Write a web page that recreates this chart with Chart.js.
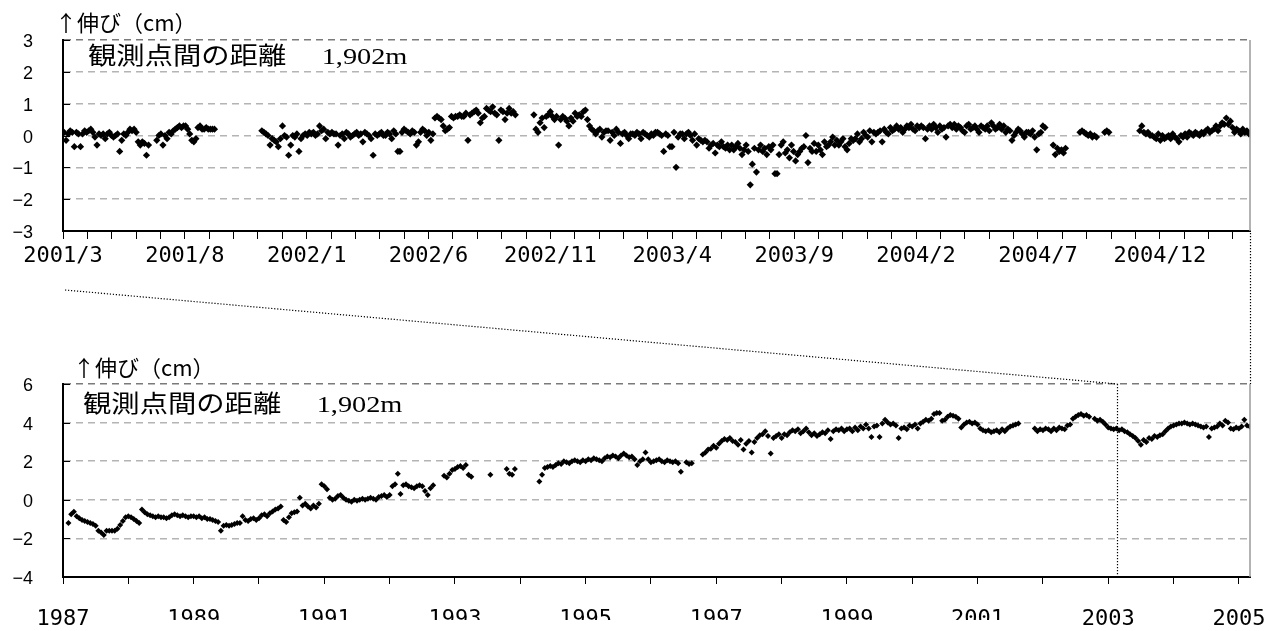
<!DOCTYPE html>
<html lang="ja">
<head>
<meta charset="utf-8">
<title>観測点間の距離 1,902m</title>
<script src="https://cdn.jsdelivr.net/npm/chart.js@4/dist/chart.umd.min.js"></script>
<style>
  html, body { margin: 0; padding: 0; background: #fff; }
  #wrap { position: relative; width: 1278px; height: 631px; overflow: hidden; }
  #topChart { position: absolute; left: 0; top: 0; }
  #bottomChart { position: absolute; left: 0; top: 330px; }
  #links { position: absolute; left: 0; top: 0; pointer-events: none; }
  .ylab { position: absolute; left: 0; width: 33px; height: 20px; line-height: 20px;
          text-align: right; font: 18px "Liberation Sans", Arial, sans-serif; color: #000;
          white-space: nowrap; }
</style>
</head>
<body>
<div id="wrap">
  <canvas id="topChart" width="1278" height="300"></canvas>
  <canvas id="bottomChart" width="1278" height="301"></canvas>
  <canvas id="links" width="1278" height="631"></canvas>
</div>
<script>
// ---- data -------------------------------------------------------------

// Upper panel: 2001/3 – 2005/3, one row per month, twelve readings per month (cm)
const topReadingsPerMonth = 12;
const topTickLabels = ['2001/3', '2001/8', '2002/1', '2002/6', '2002/11',
                       '2003/4', '2003/9', '2004/2', '2004/7', '2004/12'];
const topMinorDays = 30;      // tick mark every 30 days
const topMajorDays = 150;     // date label every 150 days
const daysPerMonth = 30.4375;
const topYTicks = [-3, -2, -1, 0, 1, 2, 3];
const _ = null;
const topValues = [
  [0.1, -0.15, 0.05, 0.15, 0.1, -0.35, 0.1, 0.05, -0.35, 0.05, 0.15, 0.1],
  [0.15, 0.2, 0.1, -0.05, -0.3, 0.05, 0.0, 0.05, -0.1, 0.05, 0.1, 0.0],
  [-0.05, 0.0, 0.05, -0.5, -0.15, 0.05, 0.0, 0.1, 0.2, 0.15, 0.2, 0.1],
  [-0.2, -0.3, -0.2, -0.25, -0.62, -0.3, _, _, _, -0.15, 0.0, 0.05],
  [-0.3, 0.0, -0.1, 0.1, 0.05, 0.15, 0.2, 0.25, 0.3, 0.25, 0.3, 0.3],
  [0.2, 0.05, -0.15, -0.2, -0.1, 0.25, 0.3, 0.2, 0.2, 0.25, 0.2, 0.2],
  [0.2, 0.2, _, _, _, _, _, _, _, _, _, _],
  [_, _, _, _, _, _, _, _, _, _, _, _],
  [0.15, 0.1, 0.05, 0.0, -0.3, -0.1, -0.15, -0.2, -0.35, -0.1, 0.3, 0.0],
  [-0.05, -0.62, -0.3, 0.0, -0.05, 0.05, -0.5, -0.1, 0.0, 0.05, 0.0, 0.1],
  [0.05, 0.1, 0.0, 0.05, 0.3, 0.15, 0.2, -0.1, 0.1, 0.05, 0.1, 0.05],
  [0.05, -0.3, 0.0, 0.05, -0.1, 0.1, 0.05, -0.05, 0.0, 0.05, 0.1, 0.0],
  [0.05, -0.2, 0.1, 0.05, 0.0, -0.1, -0.62, 0.05, 0.0, 0.05, 0.1, 0.0],
  [0.0, 0.1, 0.05, -0.1, 0.15, 0.05, -0.5, -0.5, 0.1, 0.2, 0.15, 0.1],
  [0.05, 0.15, 0.1, -0.3, -0.2, 0.1, 0.2, 0.15, 0.0, 0.1, -0.15, 0.05],
  [0.55, 0.6, 0.55, 0.5, 0.3, 0.15, 0.2, 0.25, 0.6, 0.55, 0.6, 0.6],
  [0.65, 0.6, 0.6, 0.7, -0.15, 0.65, 0.7, 0.75, 0.8, 0.7, 0.4, 0.55],
  [0.6, 0.85, 0.8, 0.75, 0.9, 0.7, 0.65, -0.15, 0.8, 0.75, 0.5, 0.7],
  [0.85, 0.7, 0.75, 0.65, _, _, _, _, _, _, _, _],
  [0.65, 0.2, 0.1, 0.4, 0.55, 0.25, 0.6, 0.65, 0.75, 0.6, 0.5, 0.6],
  [-0.3, 0.5, 0.6, 0.55, 0.45, 0.3, 0.55, 0.45, 0.7, 0.6, 0.65, 0.6],
  [0.75, 0.8, 0.5, 0.3, 0.2, 0.15, 0.05, 0.15, 0.2, -0.05, 0.1, 0.15],
  [0.15, -0.15, 0.1, 0.0, 0.2, 0.1, -0.25, 0.05, 0.1, 0.0, -0.1, 0.05],
  [0.05, 0.0, 0.1, 0.05, -0.1, 0.1, 0.05, 0.0, -0.05, 0.05, 0.0, 0.1],
  [0.1, 0.05, 0.0, -0.5, 0.05, 0.0, -0.35, -0.35, 0.1, -1.0, -0.05, 0.05],
  [0.05, -0.1, 0.05, 0.1, 0.0, -0.15, 0.05, -0.3, -0.1, -0.15, -0.2, -0.15],
  [-0.2, -0.4, -0.3, -0.25, -0.55, -0.3, -0.35, -0.2, -0.35, -0.4, -0.3, -0.45],
  [-0.3, -0.45, -0.35, -0.25, -0.4, -0.6, -0.45, -0.3, -0.5, -1.55, -0.9, -0.4],
  [-1.15, -0.45, -0.3, -0.5, -0.4, -0.6, -0.35, -0.45, -0.3, -1.2, -1.2, -0.6],
  [-0.3, -0.2, -0.55, -0.45, -0.7, -0.3, -0.5, -0.8, -0.6, -0.5, -0.4, -0.35],
  [0.0, -0.85, -0.4, -0.5, -0.25, -0.5, -0.3, -0.45, -0.6, -0.2, -0.35, -0.3],
  [-0.2, -0.05, -0.3, -0.15, -0.3, -0.2, -0.1, -0.35, -0.45, -0.25, -0.1, -0.15],
  [-0.1, 0.05, -0.2, -0.1, 0.1, 0.0, -0.05, 0.15, -0.2, 0.1, 0.05, 0.1],
  [0.15, -0.2, 0.2, 0.1, 0.05, 0.25, 0.15, 0.2, 0.3, 0.2, 0.25, 0.1],
  [0.2, 0.3, 0.25, 0.35, 0.2, 0.15, 0.3, 0.25, 0.3, 0.25, -0.1, 0.2],
  [0.3, 0.2, 0.35, 0.25, 0.1, 0.3, 0.2, 0.25, -0.05, 0.3, 0.35, 0.25],
  [0.35, 0.2, 0.3, 0.25, 0.15, 0.1, 0.3, 0.35, 0.2, 0.25, 0.3, 0.2],
  [0.1, 0.3, 0.25, 0.2, 0.3, 0.15, 0.4, 0.3, 0.2, 0.25, 0.35, 0.2],
  [0.3, 0.1, 0.2, 0.15, -0.15, 0.0, 0.1, 0.2, 0.15, 0.05, -0.05, 0.1],
  [0.1, 0.05, 0.15, -0.05, -0.45, 0.05, 0.1, 0.3, 0.25, _, _, _],
  [-0.3, -0.6, -0.4, -0.5, -0.45, -0.55, -0.4, _, _, _, _, _],
  [_, 0.1, 0.15, 0.1, 0.05, 0.0, 0.05, -0.05, 0.0, -0.05, _, _],
  [_, 0.1, 0.15, 0.1, _, _, _, _, _, _, _, _],
  [_, _, _, _, _, _, 0.15, 0.3, 0.1, 0.05, 0.1, 0.0],
  [0.0, -0.05, -0.1, 0.05, -0.15, 0.0, -0.1, -0.05, 0.0, -0.1, 0.05, -0.05],
  [-0.1, -0.2, 0.0, -0.05, 0.05, -0.05, 0.1, 0.05, 0.0, 0.1, 0.05, 0.0],
  [0.1, 0.05, 0.15, 0.2, 0.1, 0.15, 0.2, 0.3, 0.15, 0.3, 0.4, 0.35],
  [0.55, 0.35, 0.45, 0.25, 0.1, 0.2, 0.15, 0.05, 0.2, 0.1, 0.15, 0.05]
];

// Lower panel: 1987 – 2005/3, one row per year, 24 readings per year (cm)
const bottomFirstYear = 1987;
const bottomReadingsPerYear = 24;
const bottomTickLabels = ['1987', '1989', '1991', '1993', '1995', '1997', '1999', '2001', '2003', '2005'];
const bottomYTicks = [-4, -2, 0, 2, 4, 6];
const bottomValues = [
  [_, _, -1.2, -0.75, -0.62, -0.85, -0.95, -1.05, -1.1, -1.15, -1.2, -1.25, -1.35, -1.6, -1.7, -1.82, -1.6, -1.6, -1.6, -1.6, -1.5, -1.3, -1.1, -0.9],
  [-0.85, -0.9, -1.0, -1.1, -1.2, -0.5, -0.65, -0.75, -0.8, -0.85, -0.9, -0.85, -0.9, -0.9, -0.95, -0.9, -0.8, -0.75, -0.8, -0.85, -0.8, -0.85, -0.9, -0.85],
  [-0.85, -0.9, -0.85, -0.95, -0.9, -1.0, -1.0, -1.05, -1.1, -1.15, -1.6, -1.35, -1.3, -1.35, -1.3, -1.25, -1.2, -1.2, -0.85, -1.05, -1.1, -1.0, -0.95, -1.05],
  [-0.95, -0.8, -0.75, -0.85, -0.7, -0.6, -0.5, -0.45, -0.35, -1.05, -1.15, -0.9, -0.7, -0.65, -0.6, 0.1, -0.3, -0.2, -0.35, -0.45, -0.3, -0.4, -0.2, 0.8],
  [0.7, 0.55, 0.1, 0.0, 0.05, 0.2, 0.25, 0.1, 0.0, -0.05, -0.1, 0.0, -0.05, 0.0, 0.05, 0.0, 0.05, 0.1, 0.05, 0.0, 0.15, 0.2, 0.25, 0.15],
  [0.25, 0.7, 0.8, 1.35, 0.3, 0.75, 0.8, 0.7, 0.65, 0.6, 0.7, 0.75, 0.7, 0.45, 0.25, 0.6, 0.75, _, _, _, 1.25, 1.15, 1.35, 1.55],
  [1.6, 1.7, 1.75, 1.65, 1.8, 1.3, 1.2, _, _, _, _, _, _, 1.3, _, _, _, _, _, 1.6, 1.35, 1.3, 1.6, _],
  [_, _, _, _, _, _, _, 0.95, 1.3, 1.65, 1.7, 1.75, 1.7, 1.8, 1.9, 1.85, 2.0, 1.95, 1.9, 2.0, 2.05, 2.0, 1.95, 2.05],
  [2.0, 2.1, 2.05, 2.15, 2.1, 2.05, 2.0, 2.15, 2.25, 2.2, 2.3, 2.25, 2.15, 2.3, 2.4, 2.3, 2.2, 2.25, 2.1, 1.8, 2.0, 2.1, 2.45, 2.1],
  [1.95, 2.0, 2.05, 2.1, 2.0, 1.95, 2.05, 2.0, 1.95, 2.0, 1.9, 1.45, _, 1.95, 1.85, 1.9, _, _, _, 2.35, 2.45, 2.6, 2.65, 2.8],
  [2.7, 2.9, 3.05, 3.15, 3.1, 3.2, 3.05, 3.0, 2.85, 3.1, 2.6, 2.9, 3.05, 2.45, 3.0, 3.2, 3.35, 3.4, 3.55, 3.3, 2.4, 3.2, 3.3, 3.4],
  [3.2, 3.4, 3.35, 3.5, 3.6, 3.55, 3.65, 3.45, 3.55, 3.7, 3.5, 3.35, 3.45, 3.3, 3.4, 3.5, 3.45, 3.6, 3.15, 3.55, 3.65, 3.6, 3.7, 3.55],
  [3.65, 3.7, 3.55, 3.75, 3.6, 3.8, 3.7, 3.9, 3.7, 3.25, 3.8, 3.85, 3.25, 3.95, 4.15, 4.0, 3.9, 3.95, 3.85, 3.2, 3.7, 3.75, 3.65, 3.85],
  [3.8, 3.9, 3.7, 3.95, 4.05, 4.15, 4.1, 4.2, 4.45, 4.5, 4.5, 4.1, 4.15, 4.3, 4.4, 4.35, 4.3, 4.2, 3.75, 3.9, 4.0, 4.05, 3.95, 4.0],
  [3.9, 3.7, 3.6, 3.55, 3.6, 3.5, 3.55, 3.6, 3.5, 3.65, 3.55, 3.7, 3.8, 3.85, 3.9, 3.95, _, _, _, _, _, 3.7, 3.55, 3.65],
  [3.6, 3.7, 3.65, 3.55, 3.7, 3.6, 3.75, 3.7, 3.65, 3.85, 3.9, 4.2, 4.3, 4.4, 4.45, 4.35, 4.4, 4.3, _, 4.2, 4.1, 4.15, 4.05, 3.9],
  [3.75, 3.7, 3.65, 3.7, 3.6, 3.65, 3.55, 3.5, 3.4, 3.3, 3.2, 3.05, 2.85, 3.1, 3.0, 3.2, 3.15, 3.3, 3.25, 3.35, 3.4, 3.55, 3.7, 3.8],
  [3.85, 3.9, 3.95, 3.95, 4.0, 3.95, 3.9, 3.95, 3.9, 3.85, 3.8, 3.75, 3.8, 3.25, 3.7, 3.75, 3.8, 3.95, 3.85, 4.1, 4.0, 3.7, 3.65, 3.75],
  [3.7, 3.8, 4.15, 3.85, 3.8]
];

// Period of the lower panel marked by the dotted guide lines (decimal years)
const windowStart = 2003.14;
const windowEnd = 2005.17;

const noteText = '観測点間の距離\u3000 1,902m';
const axisTitleText = '↑伸び（cm）';

// ---- helpers ----------------------------------------------------------

const topPoints = [];
topValues.forEach((row, m) => row.forEach((v, j) => {
  if (v !== null) topPoints.push({ x: m + (j + 0.5) / topReadingsPerMonth, y: v });
}));

const bottomPoints = [];
bottomValues.forEach((row, k) => row.forEach((v, j) => {
  if (v !== null) bottomPoints.push({ x: bottomFirstYear + k + j / bottomReadingsPerYear, y: v });
}));

const minus = v => (v < 0 ? '\u2212' + Math.abs(v) : String(v));
const xFont = { family: '"DejaVu Sans Mono", monospace', size: 22 };

// frame, inner y ticks, axis title and the note inside the plot
const framePlugin = {
  id: 'frame',
  afterDraw(chart, args, o) {
    const { ctx, chartArea: a } = chart;
    const ys = chart.scales.y;
    ctx.save();
    ctx.strokeStyle = '#9a9a9a';
    ctx.lineWidth = 1.5;
    ctx.beginPath();
    ctx.moveTo(a.right, a.top);
    ctx.lineTo(a.right, a.bottom);
    ctx.stroke();

    ctx.strokeStyle = '#000';
    ctx.lineWidth = 1;
    o.yTicks.forEach(v => {
      const yy = Math.round(ys.getPixelForValue(v)) + 0.5;
      ctx.beginPath();
      ctx.moveTo(a.left, yy);
      ctx.lineTo(a.left + 7, yy);
      ctx.stroke();
    });

    ctx.fillStyle = '#000';
    ctx.textAlign = 'left';
    ctx.textBaseline = 'middle';
    ctx.font = '22px "Noto Sans CJK JP", sans-serif';
    ctx.fillText(axisTitleText, a.left + o.titleDx, a.top + o.titleDy);

    ctx.translate(a.left + o.noteDx, a.top + o.noteDy);
    ctx.scale(1.18, 1);
    ctx.font = '24px "Liberation Serif", "Noto Sans CJK JP", serif';
    ctx.fillText(noteText, 0, 0);
    ctx.restore();
  }
};

function baseOptions(frameOpts) {
  return {
    responsive: false,
    animation: false,
    events: [],
    plugins: { legend: { display: false }, tooltip: { enabled: false }, frame: frameOpts },
  };
}

const fixX = h => s => { s.height = h; s.paddingLeft = 0; s.paddingRight = 0; };
const fixY = s => { s.width = 63; s.paddingTop = 0; s.paddingBottom = 0; };

// ---- upper panel ------------------------------------------------------

// tick marks every 30 days, a date label on every fifth one (150 days)
function buildTopTicks(s) {
  const step = topMinorDays / daysPerMonth;
  const perLabel = topMajorDays / topMinorDays;
  const ticks = [];
  for (let k = 0; k * step <= topValues.length + 1e-9; k++) {
    const text = k % perLabel === 0 ? (topTickLabels[k / perLabel] || '') : '';
    ticks.push({ value: k * step, text });
  }
  s.ticks = ticks;
}

const topOpts = baseOptions({ yTicks: topYTicks, titleDx: -8, titleDy: -17, noteDx: 25, noteDy: 18 });
topOpts.layout = { padding: { top: 40, right: 28, left: 0, bottom: 0 } };
topOpts.scales = {
  x: {
    type: 'linear', min: 0, max: topValues.length,
    afterBuildTicks: buildTopTicks,
    afterFit: fixX(69),
    grid: { drawOnChartArea: false, drawTicks: true, tickLength: 8, color: '#000', lineWidth: 1 },
    border: { display: true, color: '#000', width: 2 },
    ticks: {
      autoSkip: false, maxRotation: 0, padding: 4, color: '#000', font: xFont,
      callback: (v, i, ticks) => ticks[i].text || ''
    }
  },
  y: {
    min: topYTicks[0], max: topYTicks[topYTicks.length - 1],
    afterBuildTicks: s => { s.ticks = topYTicks.map(v => ({ value: v })); },
    afterFit: fixY,
    grid: { color: c => (c.tick && c.tick.value === 3 ? '#7a7a7a' : '#b4b4b4'), lineWidth: 1.5, drawTicks: false },
    border: { display: true, color: '#000', width: 2, dash: [7, 5] },
    ticks: { display: false }
  }
};

const topChart = new Chart(document.getElementById('topChart'), {
  type: 'scatter',
  data: { datasets: [{ data: topPoints, pointStyle: 'rectRot', pointRadius: 3.6,
                       backgroundColor: '#000', borderColor: '#000', borderWidth: 0 }] },
  options: topOpts,
  plugins: [framePlugin]
});

// ---- lower panel ------------------------------------------------------

const bottomOpts = baseOptions({ yTicks: bottomYTicks, titleDx: 10, titleDy: -16, noteDx: 20, noteDy: 22 });
bottomOpts.layout = { padding: { top: 54, right: 28, left: 0, bottom: 0 } };
bottomOpts.scales = {
  x: {
    type: 'linear', min: bottomFirstYear, max: windowEnd,
    afterBuildTicks: s => { s.ticks = bottomValues.map((r, i) => ({ value: bottomFirstYear + i })); },
    afterFit: fixX(54),
    grid: { drawOnChartArea: false, drawTicks: true, tickLength: 7, color: '#000', lineWidth: 1 },
    border: { display: true, color: '#000', width: 2 },
    ticks: {
      autoSkip: false, maxRotation: 0, padding: 22, color: '#000', font: xFont,
      callback: v => ((v - bottomFirstYear) % 2 === 0 ? bottomTickLabels[(v - bottomFirstYear) / 2] : '')
    }
  },
  y: {
    min: bottomYTicks[0], max: bottomYTicks[bottomYTicks.length - 1],
    afterBuildTicks: s => { s.ticks = bottomYTicks.map(v => ({ value: v })); },
    afterFit: fixY,
    grid: { color: c => (c.tick && c.tick.value === 6 ? '#7a7a7a' : '#b4b4b4'), lineWidth: 1.5, drawTicks: false },
    border: { display: true, color: '#000', width: 2, dash: [7, 5] },
    ticks: { display: false }
  }
};

const bottomChart = new Chart(document.getElementById('bottomChart'), {
  type: 'scatter',
  data: { datasets: [{ data: bottomPoints, pointStyle: 'rectRot', pointRadius: 3,
                       backgroundColor: '#000', borderColor: '#000', borderWidth: 0 }] },
  options: bottomOpts,
  plugins: [framePlugin]
});

// ---- y-axis value labels, placed from each chart's own y scale ---------

function addYLabels(chart, canvasId, values) {
  const wrap = document.getElementById('wrap');
  const off = document.getElementById(canvasId).offsetTop;
  values.forEach(v => {
    const el = document.createElement('div');
    el.className = 'ylab';
    el.textContent = minus(v);
    el.style.top = (off + chart.scales.y.getPixelForValue(v) - 9) + 'px';
    wrap.appendChild(el);
  });
}
addYLabels(topChart, 'topChart', topYTicks);
addYLabels(bottomChart, 'bottomChart', bottomYTicks);

// ---- dotted guide lines linking the two panels -------------------------

function drawLinks() {
  const canvas = document.getElementById('links');
  const ctx = canvas.getContext('2d');
  const topOff = document.getElementById('topChart').offsetTop;
  const botOff = document.getElementById('bottomChart').offsetTop;
  const tx = topChart.scales.x, bx = bottomChart.scales.x;
  const ta = topChart.chartArea, ba = bottomChart.chartArea;
  const xs = Math.round(bx.getPixelForValue(windowStart)) + 0.5;
  const xe = Math.round(bx.getPixelForValue(windowEnd)) + 0.5;
  const seg = (x1, y1, x2, y2) => { ctx.beginPath(); ctx.moveTo(x1, y1); ctx.lineTo(x2, y2); ctx.stroke(); };
  ctx.clearRect(0, 0, canvas.width, canvas.height);
  ctx.strokeStyle = '#000';
  ctx.lineWidth = 1.2;
  ctx.setLineDash([1.2, 1.8]);
  seg(tx.getPixelForValue(tx.min) + 2, topOff + tx.bottom - 10, xs, botOff + ba.top);
  seg(Math.round(tx.getPixelForValue(tx.max)) + 0.5, topOff + ta.bottom + 2, xe, botOff + ba.top);
  seg(xs, botOff + ba.top, xs, botOff + ba.bottom);

  // the year labels from 1989 to 2001 sit under a strip that hides their lower edge
  ctx.fillStyle = '#fff';
  const stripLeft = bx.getPixelForValue(bottomFirstYear + 1);
  const stripRight = bx.getPixelForValue(2002);
  ctx.fillRect(stripLeft, botOff + bx.bottom - 11, stripRight - stripLeft, 11);
}
drawLinks();
</script>
</body>
</html>
